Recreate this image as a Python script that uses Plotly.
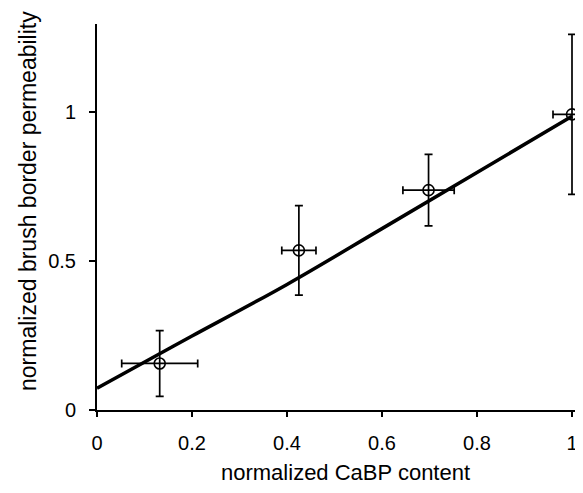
import plotly.graph_objects as go

# measured data points (mean +/- error)
cabp = [0.132, 0.425, 0.698, 1.0]
cabp_err = [0.08, 0.036, 0.054, 0.04]
perm = [0.156, 0.535, 0.737, 0.991]
perm_err = [0.11, 0.15, 0.12, 0.268]

# fitted curve
fit_x = [0.0, 0.13, 0.2, 0.4, 0.6, 0.8, 1.0]
fit_y = [0.073, 0.187, 0.248, 0.421, 0.608, 0.796, 0.985]

x_ticks = [0, 0.2, 0.4, 0.6, 0.8, 1]
x_tick_labels = ["0", "0.2", "0.4", "0.6", "0.8", "1"]
y_ticks = [0, 0.5, 1]
y_tick_labels = ["0", "0.5", "1"]

x_title = "normalized CaBP content"
y_title = "normalized brush border permeability"

FONT = "Liberation Sans, Arial, Helvetica, sans-serif"

fig = go.Figure()
fig.add_trace(go.Scatter(
    x=fit_x, y=fit_y, mode="lines", line=dict(color="black", width=3.5, shape="spline"),
    hoverinfo="skip", showlegend=False))
fig.add_trace(go.Scatter(
    x=cabp, y=perm, mode="markers",
    marker=dict(symbol="circle-open", size=11, color="black", line=dict(width=1.6, color="black")),
    error_x=dict(type="data", array=cabp_err, color="black", thickness=1.7, width=4),
    error_y=dict(type="data", array=perm_err, color="black", thickness=1.7, width=4),
    showlegend=False, cliponaxis=True))

fig.update_layout(
    width=583, height=493,
    margin=dict(l=89, r=0, t=16, b=91),
    paper_bgcolor="white", plot_bgcolor="white",
    font=dict(family=FONT, color="black", size=20),
    annotations=[
        dict(text=x_title, xref="paper", yref="paper", x=0.504, y=-0.161,
             xanchor="center", yanchor="middle", showarrow=False,
             font=dict(size=22, family=FONT, color="black")),
        dict(text=y_title, xref="paper", yref="paper", x=-0.1397, y=0.5415,
             xanchor="center", yanchor="middle", textangle=-90, showarrow=False,
             font=dict(size=23, family=FONT, color="black")),
    ],
)
fig.update_xaxes(
    range=[0, 1.04], tickvals=x_ticks, ticktext=x_tick_labels,
    showline=True, linecolor="black", linewidth=2, mirror=False,
    ticks="outside", ticklen=5, tickwidth=1.5, tickcolor="black",
    showgrid=False, zeroline=False, ticklabelstandoff=9,
)
fig.update_yaxes(
    range=[0, 1.294], tickvals=y_ticks, ticktext=y_tick_labels,
    showline=True, linecolor="black", linewidth=2,
    ticks="outside", ticklen=6, tickwidth=1.5, tickcolor="black",
    showgrid=False, zeroline=False, ticklabelstandoff=9,
)

fig.write_html("out.html")
